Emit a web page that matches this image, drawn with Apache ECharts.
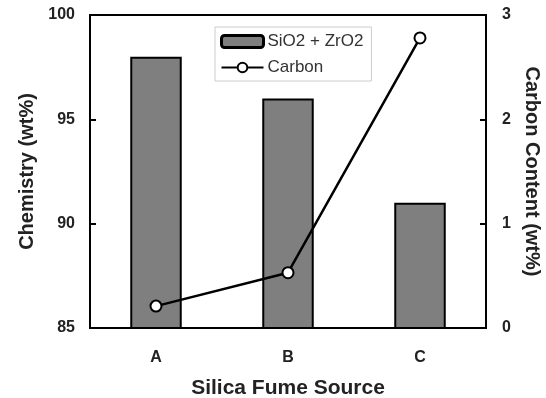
<!DOCTYPE html>
<html>
<head>
<meta charset="utf-8">
<script src="https://cdn.jsdelivr.net/npm/echarts@6/dist/echarts.min.js"></script>
<style>
html,body{margin:0;padding:0;background:#fff;}
#c{width:546px;height:398px;}
</style>
</head>
<body>
<div id="c"></div>
<script>
const categories = ['A', 'B', 'C'];
const chemistry = [98.0, 96.0, 91.0];
const carbon = [0.21, 0.53, 2.78];
const leftTicks = [85, 90, 95, 100];
const rightTicks = [0, 1, 2, 3];

const font = 'Liberation Sans, Arial, sans-serif';
const chart = echarts.init(document.getElementById('c'));
chart.setOption({
  animation: false,
  backgroundColor: '#fff',
  grid: { left: 90, right: 60, top: 15, bottom: 70, containLabel: false, outerBoundsMode: 'none',
          show: true, borderColor: '#000', borderWidth: 2, backgroundColor: 'transparent' },
  legend: {
    orient: 'vertical',
    left: 215, top: 27,
    padding: [6, 8, 5, 5],
    itemGap: 9,
    itemWidth: 42, itemHeight: 12,
    borderColor: '#cccccc', borderWidth: 1,
    textStyle: { fontFamily: font, fontSize: 17, color: '#333', padding: [0, 0, 0, -1] },
    data: [
      { name: 'SiO2 + ZrO2', itemStyle: { borderWidth: 3 } },
      { name: 'Carbon' }
    ]
  },
  xAxis: {
    type: 'category',
    data: categories,
    axisLine: { lineStyle: { color: '#000', width: 2 } },
    axisTick: { show: false },
    axisLabel: { fontFamily: font, fontWeight: 'bold', fontSize: 16, color: '#222', margin: 22 },
    name: 'Silica Fume Source',
    nameLocation: 'middle',
    nameGap: 50,
    nameTextStyle: { fontFamily: font, fontWeight: 'bold', fontSize: 21, color: '#222' }
  },
  yAxis: [{
    type: 'value', min: leftTicks[0], max: leftTicks[leftTicks.length - 1], interval: 5,
    position: 'left',
    axisLine: { show: true, lineStyle: { color: '#000', width: 2 } },
    axisTick: { show: true, inside: true, length: 6, lineStyle: { color: '#000', width: 2 } },
    splitLine: { show: false },
    axisLabel: { fontFamily: font, fontWeight: 'bold', fontSize: 16, color: '#222', margin: 15 },
    name: 'Chemistry (wt%)',
    nameLocation: 'middle', nameGap: 53, nameRotate: 90,
    nameTextStyle: { fontFamily: font, fontWeight: 'bold', fontSize: 20, color: '#222' }
  }, {
    type: 'value', min: rightTicks[0], max: rightTicks[rightTicks.length - 1], interval: 1,
    position: 'right',
    axisLine: { show: true, lineStyle: { color: '#000', width: 2 } },
    axisTick: { show: true, inside: true, length: 6, lineStyle: { color: '#000', width: 2 } },
    splitLine: { show: false },
    axisLabel: { fontFamily: font, fontWeight: 'bold', fontSize: 16, color: '#222', margin: 16 },
    name: 'Carbon Content (wt%)',
    nameLocation: 'middle', nameGap: 31, nameRotate: -90,
    nameTextStyle: { fontFamily: font, fontWeight: 'bold', fontSize: 20, color: '#222' }
  }],
  series: [{
    name: 'SiO2 + ZrO2',
    type: 'bar',
    yAxisIndex: 0,
    data: chemistry,
    barWidth: '39%',
    itemStyle: { color: '#7f7f7f', borderColor: '#000', borderWidth: 2 }
  }, {
    name: 'Carbon',
    type: 'line',
    yAxisIndex: 1,
    data: carbon,
    symbol: 'circle',
    symbolSize: 11,
    lineStyle: { color: '#000', width: 2.5 },
    itemStyle: { color: '#fff', borderColor: '#000', borderWidth: 2 }
  }]
});
</script>
</body>
</html>
